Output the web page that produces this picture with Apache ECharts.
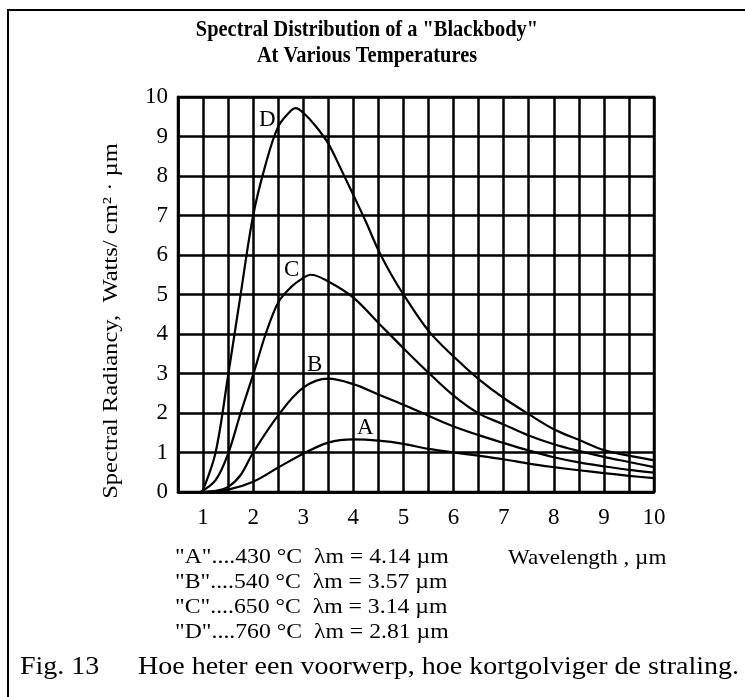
<!DOCTYPE html>
<html>
<head>
<meta charset="utf-8">
<script src="https://cdn.jsdelivr.net/npm/echarts@6/dist/echarts.min.js"></script>
<style>
html,body{margin:0;padding:0;background:#fff;}
#chart{width:745px;height:697px;}
</style>
</head>
<body>
<div id="chart"></div>
<script>
// ---- data ----
const xA = [1.0, 1.5, 2.0, 2.5, 3.0, 3.5, 4.0, 4.5, 5.0, 5.5, 6.0, 6.5, 7.0, 7.5, 8.0, 8.5, 9.0, 9.5, 10];
const yA = [0, 0.06, 0.26, 0.62, 0.97, 1.25, 1.33, 1.3, 1.22, 1.09, 1.0, 0.92, 0.83, 0.72, 0.63, 0.55, 0.48, 0.41, 0.35];

const xB = [1.0, 1.25, 1.5, 1.75, 2.0, 2.5, 3.0, 3.5, 4.0, 4.5, 5.0, 5.5, 6.0, 6.5, 7.0, 7.5, 8.0, 8.5, 9.0, 9.5, 10];
const yB = [0, 0.03, 0.13, 0.43, 1.0, 1.94, 2.64, 2.87, 2.73, 2.47, 2.21, 1.93, 1.66, 1.44, 1.24, 1.05, 0.88, 0.75, 0.65, 0.56, 0.49];

const xC = [0.95, 1.25, 1.5, 1.75, 2.0, 2.25, 2.5, 2.75, 3.0, 3.15, 3.5, 4.0, 4.5, 5.0, 5.5, 6.0, 6.5, 7.0, 7.5, 8.0, 8.5, 9.0, 9.5, 10];
const yC = [0, 0.3, 0.97, 2.0, 2.97, 4.0, 4.8, 5.18, 5.42, 5.5, 5.33, 4.92, 4.28, 3.64, 3.02, 2.44, 1.99, 1.71, 1.43, 1.21, 1.04, 0.89, 0.76, 0.63];

const xD = [0.95, 1.0, 1.25, 1.5, 1.75, 2.0, 2.25, 2.5, 2.75, 2.85, 3.0, 3.25, 3.5, 3.75, 4.0, 4.25, 4.5, 4.75, 5.0, 5.5, 6.0, 6.5, 7.0, 7.5, 8.0, 8.5, 9.0, 9.5, 10];
const yD = [0, 0.05, 1.0, 2.95, 5.0, 7.0, 8.3, 9.25, 9.65, 9.72, 9.6, 9.26, 8.82, 8.18, 7.52, 6.84, 6.12, 5.52, 5.0, 4.08, 3.43, 2.86, 2.38, 1.97, 1.59, 1.32, 1.06, 0.92, 0.8];

const curveNames = ['A', 'B', 'C', 'D'];
const labelX = [4.24, 3.23, 2.77, 2.28];
const labelY = [1.61, 3.22, 5.63, 9.43];

const xTicks = [1, 2, 3, 4, 5, 6, 7, 8, 9, 10];
const yTicks = [0, 1, 2, 3, 4, 5, 6, 7, 8, 9, 10];

const titleLines = ['Spectral Distribution of a "Blackbody"', 'At Various Temperatures'];
const yName = 'Spectral Radiancy,  Watts/ cm\u00B2 \u00B7 \u00B5m';
const xName = 'Wavelength , \u00B5m';
const legendLines = [
  '"A"....430 \u00B0C  \u03BBm = 4.14 \u00B5m',
  '"B"....540 \u00B0C  \u03BBm = 3.57 \u00B5m',
  '"C"....650 \u00B0C  \u03BBm = 3.14 \u00B5m',
  '"D"....760 \u00B0C  \u03BBm = 2.81 \u00B5m'
];
const captionFig = 'Fig. 13';
const captionText = 'Hoe heter een voorwerp, hoe kortgolviger de straling.';

// ---- build ----
const FONT = '"Liberation Serif", "Times New Roman", serif';
const xs = [xA, xB, xC, xD];
const ys = [yA, yB, yC, yD];

const series = curveNames.map((n, i) => ({
  name: n,
  type: 'line',
  smooth: 0.35,
  showSymbol: false,
  lineStyle: { color: '#000', width: 2.2 },
  data: xs[i].map((x, j) => [x, ys[i][j]]),
  z: 5
}));
series.push({
  type: 'scatter',
  symbolSize: 0,
  itemStyle: { opacity: 1, color: '#000' },
  data: curveNames.map((n, i) => ({ value: [labelX[i], labelY[i]], name: n })),
  label: {
    show: true, position: 'inside', formatter: '{b}',
    color: '#000', fontFamily: FONT, fontSize: 23, textBorderWidth: 0, opacity: 1
  },
  z: 6
});

function txt(x, y, text, font, opts) {
  return Object.assign({ type: 'text', x: x, y: y,
    style: { text: text, font: font, fill: '#000', textAlign: 'left', textVerticalAlign: 'middle' } }, opts || {});
}

const graphic = [
  { type: 'rect', shape: { x: 8, y: 10, width: 900, height: 900 },
    style: { fill: 'none', stroke: '#000', lineWidth: 2 }, silent: true },
  { type: 'text', x: 367, y: 30, scaleX: 0.85,
    style: { text: titleLines[0], font: 'bold 24px ' + FONT, fill: '#000', textAlign: 'center', textVerticalAlign: 'middle' } },
  { type: 'text', x: 367, y: 56, scaleX: 0.85,
    style: { text: titleLines[1], font: 'bold 24px ' + FONT, fill: '#000', textAlign: 'center', textVerticalAlign: 'middle' } },
  { type: 'text', x: 111, y: 321, rotation: Math.PI / 2, scaleX: 1.17,
    style: { text: yName, font: '21px ' + FONT, fill: '#000', textAlign: 'center', textVerticalAlign: 'middle' } },
  txt(508, 558, xName, '22px ' + FONT, { scaleX: 1.05 }),
  txt(20, 667, captionFig, '25px ' + FONT, { scaleX: 1.12 }),
  txt(138, 667, captionText, '25px ' + FONT, { scaleX: 1.12 })
];
legendLines.forEach((t, i) => {
  graphic.push(txt(175, 557 + i * 25.3, t, '21px ' + FONT, { scaleX: 1.13 }));
});

const chart = echarts.init(document.getElementById('chart'), null, { renderer: 'canvas' });
chart.setOption({
  animation: false,
  backgroundColor: '#fff',
  grid: { left: 178, right: 91, top: 97, bottom: 205, show: true, borderColor: '#000', borderWidth: 2.5 },
  xAxis: {
    type: 'value', min: 0.5, max: 10, interval: 0.5,
    axisLine: { show: true, lineStyle: { color: '#000', width: 2.5 } },
    axisTick: { show: false },
    splitLine: { show: true, lineStyle: { color: '#000', width: 2.5 } },
    axisLabel: {
      color: '#000', fontFamily: FONT, fontSize: 23, margin: 14,
      formatter: v => (xTicks.indexOf(v) >= 0 ? String(v) : '')
    }
  },
  yAxis: {
    type: 'value', min: 0, max: 10, interval: 1,
    axisLine: { show: true, lineStyle: { color: '#000', width: 2.5 } },
    axisTick: { show: false },
    splitLine: { show: true, lineStyle: { color: '#000', width: 2.5 } },
    axisLabel: {
      color: '#000', fontFamily: FONT, fontSize: 23, margin: 10,
      formatter: v => (yTicks.indexOf(v) >= 0 ? String(v) : '')
    }
  },
  series: series,
  graphic: graphic
});
</script>
</body>
</html>
